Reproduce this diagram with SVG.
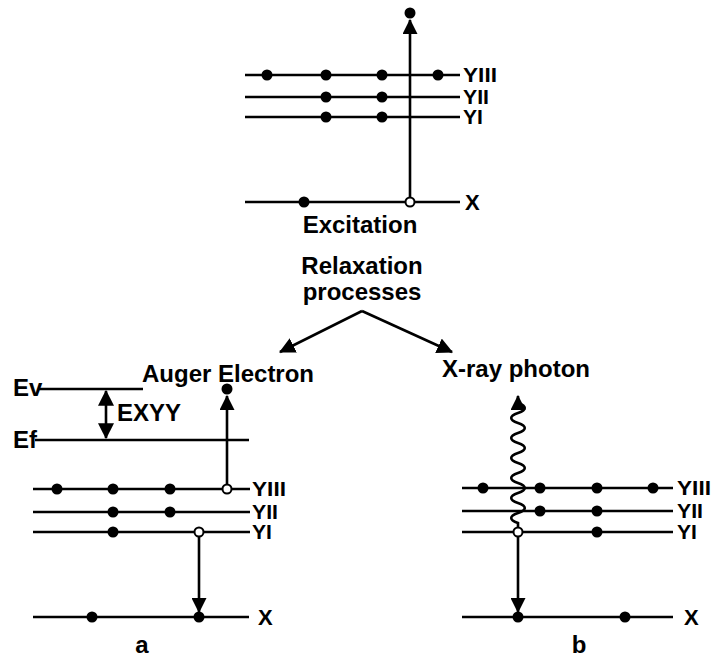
<svg xmlns="http://www.w3.org/2000/svg" width="713" height="659" viewBox="0 0 713 659">
<style>
.lv{stroke:#000;stroke-width:2.6;fill:none}
.ln{stroke:#000;stroke-width:2.6;fill:none}
.dot{fill:#000}
.hole{fill:#fff;stroke:#000;stroke-width:2}
.lbl{font-family:"Liberation Sans",Arial,sans-serif;font-weight:bold;font-size:19.5px;fill:#000}
.xl{font-family:"Liberation Sans",Arial,sans-serif;font-weight:bold;font-size:22px;fill:#000}
.ttl{font-family:"Liberation Sans",Arial,sans-serif;font-weight:bold;font-size:24px;fill:#000}
</style>
<defs>
<marker id="ah" viewBox="0 0 14 14" refX="13" refY="7" markerWidth="15" markerHeight="15" markerUnits="userSpaceOnUse" orient="auto-start-reverse">
<path d="M0,0 L14,7 L0,14 z" fill="#000"/>
</marker>
<marker id="ahs" viewBox="0 0 14 14" refX="13" refY="7" markerWidth="16" markerHeight="16" markerUnits="userSpaceOnUse" orient="auto-start-reverse">
<path d="M0,0 L14,7 L0,14 z" fill="#000"/>
</marker>
</defs>
<rect width="713" height="659" fill="#fff"/>

<g id="excitation">
<line class="lv" x1="245" y1="75" x2="460" y2="75"/>
<line class="lv" x1="245" y1="97" x2="460" y2="97"/>
<line class="lv" x1="245" y1="117" x2="460" y2="117"/>
<line class="lv" x1="245" y1="202" x2="460" y2="202"/>
<circle class="dot" cx="267" cy="75" r="5.5"/>
<circle class="dot" cx="326" cy="75" r="5.5"/>
<circle class="dot" cx="382" cy="75" r="5.5"/>
<circle class="dot" cx="438" cy="75" r="5.5"/>
<circle class="dot" cx="326" cy="97" r="5.5"/>
<circle class="dot" cx="382" cy="97" r="5.5"/>
<circle class="dot" cx="326" cy="117" r="5.5"/>
<circle class="dot" cx="382" cy="117" r="5.5"/>
<circle class="dot" cx="304" cy="202" r="5.5"/>
<circle class="dot" cx="410" cy="13" r="5.5"/>
<line class="ln" x1="410" y1="198" x2="410" y2="20" marker-end="url(#ah)"/>
<circle class="hole" cx="410" cy="202" r="4.5"/>
<text class="lbl" x="463" y="82" textLength="34" lengthAdjust="spacingAndGlyphs">YIII</text>
<text class="lbl" x="463" y="104" textLength="26" lengthAdjust="spacingAndGlyphs">YII</text>
<text class="lbl" x="463" y="124" textLength="20" lengthAdjust="spacingAndGlyphs">YI</text>
<text class="xl" x="465" y="210">X</text>
<text class="ttl" x="360" y="233" text-anchor="middle">Excitation</text>
</g>

<g id="relaxation">
<text class="ttl" x="362" y="274" text-anchor="middle">Relaxation</text>
<text class="ttl" x="362" y="300" text-anchor="middle">processes</text>
</g>

<g id="auger">
<text class="ttl" x="142" y="382">Auger Electron</text>
<line class="lv" x1="38" y1="389" x2="143" y2="389"/>
<line class="lv" x1="35" y1="440" x2="249" y2="440"/>
<text class="ttl" x="13" y="396">Ev</text>
<text class="ttl" x="13" y="448">Ef</text>
<line class="ln" x1="106" y1="391" x2="106" y2="438" marker-start="url(#ahs)" marker-end="url(#ahs)"/>
<text class="ttl" x="117" y="421">EXYY</text>
<line class="lv" x1="33" y1="489" x2="250" y2="489"/>
<line class="lv" x1="33" y1="512" x2="250" y2="512"/>
<line class="lv" x1="33" y1="532" x2="250" y2="532"/>
<line class="lv" x1="33" y1="617" x2="249" y2="617"/>
<circle class="dot" cx="57" cy="489" r="5.5"/>
<circle class="dot" cx="113" cy="489" r="5.5"/>
<circle class="dot" cx="170" cy="489" r="5.5"/>
<circle class="dot" cx="113" cy="512" r="5.5"/>
<circle class="dot" cx="170" cy="512" r="5.5"/>
<circle class="dot" cx="113" cy="532" r="5.5"/>
<circle class="dot" cx="92" cy="617" r="5.5"/>
<circle class="dot" cx="199" cy="617" r="5.5"/>
<circle class="dot" cx="227" cy="389" r="5.5"/>
<line class="ln" x1="227" y1="485" x2="227" y2="396" marker-end="url(#ah)"/>
<line class="ln" x1="199" y1="536" x2="199" y2="612" marker-end="url(#ah)"/>
<circle class="hole" cx="227" cy="489" r="4.5"/>
<circle class="hole" cx="199" cy="532" r="4.5"/>
<text class="lbl" x="252" y="496" textLength="34" lengthAdjust="spacingAndGlyphs">YIII</text>
<text class="lbl" x="252" y="519" textLength="26" lengthAdjust="spacingAndGlyphs">YII</text>
<text class="lbl" x="252" y="539" textLength="20" lengthAdjust="spacingAndGlyphs">YI</text>
<text class="xl" x="258" y="625">X</text>
<text class="ttl" x="142" y="653" text-anchor="middle">a</text>
</g>

<g id="xray">
<text class="ttl" x="442" y="377">X-ray photon</text>
<line class="lv" x1="462" y1="488" x2="673" y2="488"/>
<line class="lv" x1="462" y1="511" x2="673" y2="511"/>
<line class="lv" x1="462" y1="532" x2="673" y2="532"/>
<line class="lv" x1="462" y1="617" x2="673" y2="617"/>
<circle class="dot" cx="483" cy="488" r="5.5"/>
<circle class="dot" cx="540" cy="488" r="5.5"/>
<circle class="dot" cx="597" cy="488" r="5.5"/>
<circle class="dot" cx="653" cy="488" r="5.5"/>
<circle class="dot" cx="540" cy="511" r="5.5"/>
<circle class="dot" cx="597" cy="511" r="5.5"/>
<circle class="dot" cx="597" cy="532" r="5.5"/>
<circle class="dot" cx="518" cy="617" r="5.5"/>
<circle class="dot" cx="625" cy="617" r="5.5"/>
<path class="ln" d="M518,528 L518,523 c -9,-3 -9,-7 0,-10 c 9,-3 9,-7 0,-10 c -9,-3 -9,-7 0,-10 c 9,-3 9,-7 0,-10 c -9,-3 -9,-7 0,-10 c 9,-3 9,-7 0,-10 c -9,-3 -9,-7 0,-10 c 9,-3 9,-7 0,-10 c -9,-3 -9,-7 0,-10 c 9,-3 9,-7 0,-10 c -9,-3 -9,-7 0,-10 c 9,-3 9,-7 0,-10 L518,396" marker-end="url(#ah)"/>
<line class="ln" x1="518" y1="536" x2="518" y2="612" marker-end="url(#ah)"/>
<circle class="hole" cx="518" cy="532" r="4.5"/>
<text class="lbl" x="677" y="495" textLength="34" lengthAdjust="spacingAndGlyphs">YIII</text>
<text class="lbl" x="677" y="518" textLength="26" lengthAdjust="spacingAndGlyphs">YII</text>
<text class="lbl" x="677" y="539" textLength="20" lengthAdjust="spacingAndGlyphs">YI</text>
<text class="xl" x="684" y="625">X</text>
<text class="ttl" x="579" y="653" text-anchor="middle">b</text>
</g>

<g id="connectors">
<line class="ln" x1="362" y1="311" x2="280" y2="352" marker-end="url(#ahs)"/>
<line class="ln" x1="362" y1="311" x2="452" y2="352" marker-end="url(#ahs)"/>
</g>
</svg>
